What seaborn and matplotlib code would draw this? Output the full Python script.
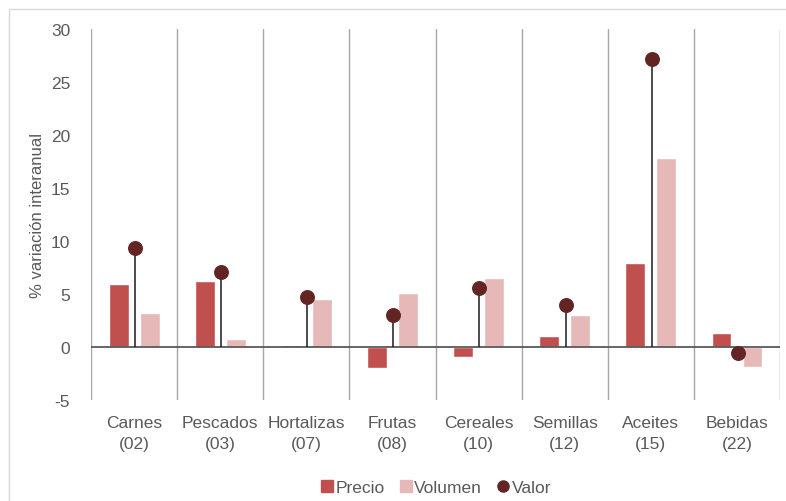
import numpy as np
import pandas as pd
import matplotlib.pyplot as plt
import matplotlib.patches as mpatches
from matplotlib.lines import Line2D
import seaborn as sns

# Data
categorias = ['Carnes\n(02)', 'Pescados\n(03)', 'Hortalizas\n(07)', 'Frutas\n(08)',
              'Cereales\n(10)', 'Semillas\n(12)', 'Aceites\n(15)', 'Bebidas\n(22)']
precio = [5.9, 6.2, 0.15, -2.0, -0.9, 1.0, 7.9, 1.3]
volumen = [3.2, 0.75, 4.5, 5.1, 6.5, 3.0, 17.8, -1.9]
valor = [9.3, 7.1, 4.7, 3.0, 5.6, 4.0, 27.2, -0.6]

c_precio = '#C0504D'
c_volumen = '#E6B9B8'
c_valor = '#632523'
gris = '#595959'

sns.set_style('white')
plt.rcParams['font.family'] = ['Liberation Sans', 'DejaVu Sans']
plt.rcParams['axes.unicode_minus'] = False

df = pd.DataFrame({
    'cat': categorias * 2,
    'serie': ['Precio'] * len(categorias) + ['Volumen'] * len(categorias),
    'val': precio + volumen,
})

fig = plt.figure(figsize=(7.86, 5.02), dpi=100)
ax = fig.add_axes([0.1158, 0.2012, 0.8766, 0.7388])

sns.barplot(data=df, x='cat', y='val', hue='serie', palette=[c_precio, c_volumen],
            width=0.72, gap=0.36, ax=ax, legend=False, saturation=1)

# Valor: stem + dot
xs = np.arange(len(categorias)) + 0.01
ax.vlines(xs, 0, valor, color='#1a1a1a', lw=1.1, zorder=3)
ax.scatter(xs, valor, s=95, color=c_valor, zorder=4)

ax.set_ylim(-5, 30)
ax.set_xlim(-0.5, len(categorias) - 0.5)
ax.set_yticks(range(-5, 31, 5))
ax.axhline(0, color=gris, lw=1.3, zorder=2)
for b in np.arange(-0.5, len(categorias), 1):
    ax.axvline(b, color='#A6A6A6', lw=1, zorder=1)

for s in ax.spines.values():
    s.set_visible(False)
ax.tick_params(axis='y', length=0, labelsize=12.5, colors=gris, pad=15)
ax.tick_params(axis='x', length=0, labelsize=12.5, colors=gris, pad=11)
for t in ax.get_xticklabels():
    t.set_linespacing(1.45)
ax.set_xlabel('')
ax.set_ylabel('% variación interanual', fontsize=12, color=gris, labelpad=4)

handles = [
    Line2D([], [], marker='s', ls='', color=c_precio, markersize=8, label='Precio'),
    Line2D([], [], marker='s', ls='', color=c_volumen, markersize=8, label='Volumen'),
    Line2D([], [], marker='o', ls='', color=c_valor, markersize=8, label='Valor'),
]
fig.legend(handles=handles, loc='lower center', bbox_to_anchor=(0.552, -0.02), ncol=3,
           frameon=False, fontsize=12.5, handletextpad=-0.1, columnspacing=0.6,
           handlelength=1.2, labelcolor=gris)

# outer chart border
fig.patches.append(mpatches.Rectangle((9 / 786, -0.01), 1.0, 1 - 10 / 502 + 0.01,
                                      transform=fig.transFigure, fill=False,
                                      edgecolor='#D9D9D9', lw=1))

fig.savefig('out.png', dpi=100)
